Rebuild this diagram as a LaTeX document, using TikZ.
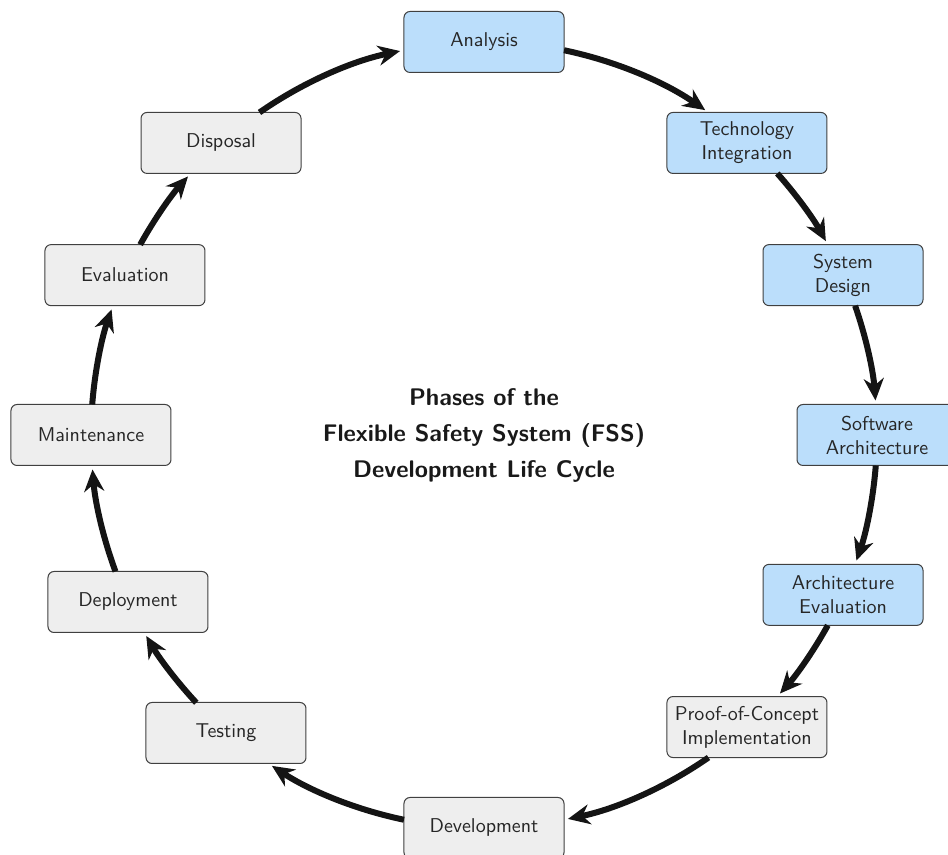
\documentclass[tikz,border=0pt]{standalone}
\usetikzlibrary{arrows.meta,calc}
\definecolor{phaseblue}{HTML}{BBDEFB}
\definecolor{phasegray}{HTML}{EEEEEE}
\begin{document}
\begin{tikzpicture}[x=0.5pt,y=0.5pt,
  phase/.style={draw=black!75, line width=0.5pt, rounded corners=3pt,
    minimum width=80pt, minimum height=30.5pt, inner sep=2pt,
    align=center, font=\sffamily, text=black!85},
  early/.style={phase, fill=phaseblue},
  late/.style={phase, fill=phasegray},
  % arc on the ring (radius 393) between two phases; #1 and #2 are the
  % angular offsets from each centre to the point where the ring meets the box
  ring/.style 2 args={to path={
    let \p1=(\tikztostart.center), \p2=(\tikztotarget.center),
        \n1={atan2(\y1,\x1)-#1},
        \n2={atan2(\y2,\x2)+#2},
        \n3={\n2>\n1 ? \n2-360 : \n2}
    in (\n1:393) arc[start angle=\n1, end angle=\n3, radius=393]}},
  flow/.style={line width=3pt, draw=black!92,
    -{Stealth[length=11pt,width=10pt]}, shorten >=2pt}
]
\useasboundingbox (-484,435) rectangle (464,-420);

% centre title
\node[font=\sffamily\bfseries\large, align=center, text=black!90] (title) at (0,-1)
  {Phases of the\\[4pt]Flexible Safety System (FSS)\\[4pt]Development Life Cycle};

% phases around the ring
\node[early] (analysis) at (90:393)  {Analysis};
\node[early] (tech)     at (48:393)  {Technology\\Integration};
\node[early] (sysdes)   at (24:393)  {System\\Design};
\node[early] (softarch) at (0:393)   {Software\\Architecture};
\node[early] (archeval) at (-24:393) {Architecture\\Evaluation};
\node[late]  (poc)      at (-48:393) {Proof-of-Concept\\Implementation};
\node[late]  (devel)    at (-90:393) {Development};
\node[late]  (testing)  at (-258,-298) {Testing};
\node[late]  (deploy)   at (-356,-167) {Deployment};
\node[late]  (maint)    at (180:393) {Maintenance};
\node[late]  (evalu)    at (156:393) {Evaluation};
\node[late]  (disposal) at (132:393) {Disposal};

% cycle
\draw[flow] (analysis) to[ring={11.75}{7.16}] (tech);
\draw[flow] (tech)     to[ring={6.28}{4.97}]  (sysdes);
\draw[flow] (sysdes)   to[ring={4.79}{4.45}]  (softarch);
\draw[flow] (softarch) to[ring={4.45}{4.79}]  (archeval);
\draw[flow] (archeval) to[ring={4.97}{6.28}]  (poc);
\draw[flow] (poc)      to[ring={7.16}{11.75}] (devel);
\draw[flow] (devel)    to[ring={11.75}{7.65}] (testing);
\draw[flow] (testing)  to[ring={6.17}{5.04}]  (deploy);
\draw[flow] (deploy)   to[ring={4.81}{4.45}]  (maint);
\draw[flow] (maint)    to[ring={4.45}{4.79}]  (evalu);
\draw[flow] (evalu)    to[ring={4.97}{6.28}]  (disposal);
\draw[flow] (disposal) to[ring={7.16}{11.75}] (analysis);
\end{tikzpicture}
\end{document}
